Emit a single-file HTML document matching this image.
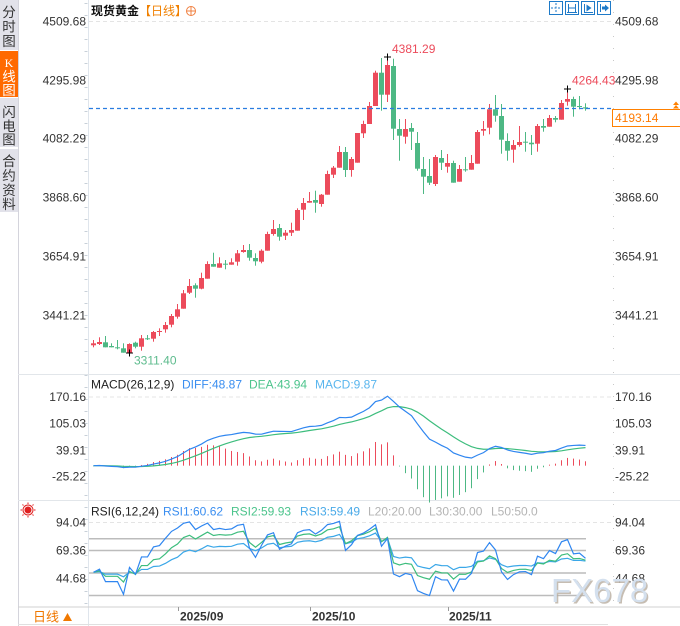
<!DOCTYPE html>
<html><head><meta charset="utf-8">
<style>
html,body{margin:0;padding:0;background:#fff;}
body{width:680px;height:626px;overflow:hidden;position:relative;font-family:"Liberation Sans","Noto Sans CJK SC",sans-serif;}
svg{position:absolute;left:0;top:0;}
</style></head><body>
<svg id="c" width="680" height="626" xmlns="http://www.w3.org/2000/svg" font-family="Liberation Sans, Noto Sans CJK SC, sans-serif">
<rect x="0" y="0" width="680" height="626" fill="#fff"/>
<!-- sidebar -->
<rect x="0" y="0" width="18" height="50" fill="#e2e2ea"/>
<rect x="0" y="51" width="18" height="46" fill="#ff6a00"/>
<rect x="0" y="98" width="18" height="49" fill="#e2e2ea"/>
<rect x="0" y="149" width="18" height="63" fill="#e2e2ea"/>
<g font-size="13.5" fill="#333" text-anchor="middle" font-family="Noto Sans CJK SC, sans-serif">
<text x="9" y="17">分</text><text x="9" y="31.5">时</text><text x="9" y="46">图</text>
<text x="9" y="117">闪</text><text x="9" y="131">电</text><text x="9" y="144.5">图</text>
<text x="9" y="166">合</text><text x="9" y="180.5">约</text><text x="9" y="195">资</text><text x="9" y="209">料</text>
</g>
<g font-size="13.5" fill="#fff" text-anchor="middle">
<text x="9" y="67" font-family="Liberation Serif, serif" font-size="12">K</text>
<text x="9" y="81.5" font-family="Noto Sans CJK SC, sans-serif">线</text>
<text x="9" y="95" font-family="Noto Sans CJK SC, sans-serif">图</text>
</g>
<line x1="18.5" y1="0" x2="18.5" y2="626" stroke="#d4d4dc"/>
<line x1="88.5" y1="0" x2="88.5" y2="626" stroke="#dfe5ec"/>
<line x1="18" y1="374.5" x2="680" y2="374.5" stroke="#e2e6ea"/>
<line x1="18" y1="500.5" x2="680" y2="500.5" stroke="#e2e6ea"/>
<line x1="18" y1="607" x2="680" y2="607" stroke="#d0d0d0"/>
<line x1="18" y1="624.5" x2="608" y2="624.5" stroke="#e0e0e0"/>
<!-- right axis dotted -->
<line x1="613.5" y1="0" x2="613.5" y2="607" stroke="#c8c8c8" stroke-dasharray="1,11"/>
<line x1="86" y1="3" x2="86" y2="607" stroke="#c8d0d8" stroke-dasharray="1,11" stroke-width="3"/>
<!-- top dashed lines -->
<line x1="89" y1="21.5" x2="613" y2="21.5" stroke="#e4e4e4" stroke-dasharray="4,3"/>
<line x1="89" y1="397" x2="613" y2="397" stroke="#e4e4e4" stroke-dasharray="4,3"/>
<line x1="89" y1="522.5" x2="613" y2="522.5" stroke="#e4e4e4" stroke-dasharray="4,3"/>
<!-- RSI level lines -->
<g stroke="#bcbcbc" stroke-width="1.5">
<line x1="89" y1="538.7" x2="586" y2="538.7"/>
<line x1="89" y1="550.5" x2="586" y2="550.5"/>
<line x1="89" y1="573" x2="586" y2="573"/>
<line x1="89" y1="595.5" x2="586" y2="595.5"/>
</g>
<!-- title -->
<text x="91" y="15" font-size="12" fill="#111" font-weight="bold" font-family="Liberation Sans, Noto Sans CJK SC, sans-serif">现货黄金<tspan fill="#f08000" font-weight="normal">【日线】</tspan></text>
<circle cx="191" cy="11" r="4.5" fill="none" stroke="#f08040" stroke-width="1"/>
<line x1="186.5" y1="11" x2="195.5" y2="11" stroke="#f08040"/>
<line x1="191" y1="6.5" x2="191" y2="15.5" stroke="#f08040"/>
<!-- top right icons -->
<g fill="none" stroke="#1e7ac8" stroke-width="1">
<rect x="549.5" y="1.5" width="13" height="13"/>
<rect x="565.5" y="1.5" width="13" height="13"/>
<rect x="581.5" y="1.5" width="13" height="13"/>
<rect x="597.5" y="1.5" width="13" height="13"/>
<line x1="556" y1="3" x2="556" y2="13" stroke-dasharray="2,1.5"/>
<line x1="551" y1="8" x2="561" y2="8" stroke-dasharray="2,1.5"/>
<line x1="568.5" y1="4" x2="568.5" y2="12"/><line x1="575.5" y1="4" x2="575.5" y2="12"/>
<line x1="568.5" y1="8" x2="575.5" y2="8"/><line x1="567" y1="12.5" x2="577" y2="12.5"/>
<line x1="584.5" y1="4" x2="584.5" y2="12.5"/><line x1="584" y1="12.5" x2="593" y2="12.5"/>
<line x1="600.5" y1="4" x2="600.5" y2="12"/>
</g>
<path d="M586.5,4.5 L591.5,8 L586.5,11.5Z" fill="#1e7ac8"/>
<path d="M602,6.5 L605,6.5 L605,4.5 L609,8 L605,11.5 L605,9.5 L602,9.5Z" fill="#1e7ac8"/>
<!-- axis labels -->
<g font-size="12" fill="#333">
<g text-anchor="end">
<text x="86" y="25.3">4509.68</text>
<text x="86" y="84.3">4295.98</text>
<text x="86" y="142.5">4082.29</text>
<text x="86" y="201.5">3868.60</text>
<text x="86" y="260.5">3654.91</text>
<text x="86" y="319.3">3441.21</text>
<text x="86" y="401">170.16</text>
<text x="86" y="427.5">105.03</text>
<text x="86" y="454.3">39.91</text>
<text x="86" y="480.5">-25.22</text>
<text x="86" y="526.6">94.04</text>
<text x="86" y="554.6">69.36</text>
<text x="86" y="582.6">44.68</text>
</g>
<text x="615" y="25.3">4509.68</text>
<text x="615" y="84.3">4295.98</text>
<text x="615" y="142.5">4082.29</text>
<text x="615" y="201.5">3868.60</text>
<text x="615" y="260.5">3654.91</text>
<text x="615" y="319.3">3441.21</text>
<text x="615" y="401">170.16</text>
<text x="615" y="427.5">105.03</text>
<text x="615" y="454.3">39.91</text>
<text x="615" y="480.5">-25.22</text>
<text x="615" y="526.6">94.04</text>
<text x="615" y="554.6">69.36</text>
<text x="615" y="582.6">44.68</text>
</g>
<!-- legends -->
<g font-size="12">
<text x="91" y="388.5" fill="#222">MACD(26,12,9)</text>
<text x="182" y="388.5" fill="#3a8ef0">DIFF:48.87</text>
<text x="249" y="388.5" fill="#4cc48c">DEA:43.94</text>
<text x="315" y="388.5" fill="#5ab6ee">MACD:9.87</text>
<text x="91" y="515.5" fill="#222">RSI(6,12,24)</text>
<text x="163" y="515.5" fill="#3a8ef0">RSI1:60.62</text>
<text x="231" y="515.5" fill="#4cc48c">RSI2:59.93</text>
<text x="300" y="515.5" fill="#4aaae8">RSI3:59.49</text>
<text x="368" y="515.5" fill="#b4b4b4">L20:20.00</text>
<text x="429" y="515.5" fill="#b4b4b4">L30:30.00</text>
<text x="491" y="515.5" fill="#b4b4b4">L50:50.0</text>
</g>
<!-- sun icon -->
<g stroke="#e02020" stroke-width="1">
<circle cx="28" cy="510" r="3" fill="#e02020"/>
<circle cx="28" cy="510" r="5" fill="none"/>
<line x1="28" y1="502.5" x2="28" y2="504"/><line x1="28" y1="516" x2="28" y2="517.5"/>
<line x1="20.5" y1="510" x2="22" y2="510"/><line x1="34" y1="510" x2="35.5" y2="510"/>
<line x1="22.5" y1="504.5" x2="23.5" y2="505.5"/><line x1="32.5" y1="514.5" x2="33.5" y2="515.5"/>
<line x1="33.5" y1="504.5" x2="32.5" y2="505.5"/><line x1="22.5" y1="515.5" x2="23.5" y2="514.5"/>
</g>
<!-- bottom left box -->
<text x="33" y="621.5" font-size="13" fill="#f07800" font-family="Noto Sans CJK SC, sans-serif">日线</text>
<path d="M63,621 L67.5,613 L72,621Z" fill="#f07800"/>
<!-- dates -->
<g stroke="#999"><line x1="178.5" y1="607" x2="178.5" y2="611"/><line x1="310.5" y1="607" x2="310.5" y2="611"/><line x1="448.5" y1="607" x2="448.5" y2="611"/></g>
<g font-size="12" font-weight="bold" fill="#333">
<text x="180" y="620.5">2025/09</text>
<text x="312" y="620.5">2025/10</text>
<text x="449" y="620.5">2025/11</text>
</g>
<g id="dyn"></g>
<!-- current price -->
<line x1="89" y1="108.5" x2="613" y2="108.5" stroke="#2a7de0" stroke-width="1.2" stroke-dasharray="4,3"/>
<rect x="612.5" y="109.5" width="68" height="17" fill="#fff" stroke="#ff8000"/>
<text x="615" y="122" font-size="12" fill="#ff7a00">4193.14</text>
<path d="M673,105 L676,101.5 L679,105Z M673,108.5 L676,105 L679,108.5Z" fill="#ff8000"/>
<!-- extreme labels -->
<g font-size="12">
<text x="392" y="53" fill="#ec4b5b">4381.29</text>
<text x="572" y="84.5" fill="#ec4b5b">4264.43</text>
<text x="134" y="364.5" fill="#5dbb8d">3311.40</text>
</g>
<g stroke="#000" stroke-width="1">
<line x1="384" y1="57" x2="391" y2="57"/><line x1="387.5" y1="53.5" x2="387.5" y2="60.5"/>
<line x1="564" y1="89" x2="571" y2="89"/><line x1="567.5" y1="85.5" x2="567.5" y2="92.5"/>
<line x1="126" y1="353" x2="133" y2="353"/><line x1="129.5" y1="349.5" x2="129.5" y2="356.5"/>
</g>
<!-- watermark -->
<text x="552.5" y="603.5" font-size="33" fill="#b8ada0" opacity="0.8">FX678</text>
<text x="551" y="602" font-size="33" fill="#d4e0ee">FX678</text>
</svg>
<script>
(function(){
const C=[
[343.3,345.3,340,347.3,'r'],[342,344,337.3,345,'r'],[342.3,347.3,336,347.3,'g'],[346,347.3,343.3,347.3,'g'],
[347.3,347.3,340,349.3,'g'],[348.3,352.7,343.3,352.7,'g'],[344,352.7,343.3,354,'r'],[342.7,346.7,341.7,348.3,'g'],
[338.3,346.7,335,350.7,'r'],[338.3,338.3,335,340,'g'],[332,338.7,331,341.7,'r'],[331,331,328.3,336,'r'],
[325,329.3,322,332.7,'r'],[316,324.7,314,327.3,'r'],[309.3,316.7,304,318.7,'r'],[293.3,308.7,290,308.7,'r'],
[286,292.7,279,294,'r'],[285.3,288.7,283.3,297.7,'g'],[278,288.7,272.7,289.3,'r'],[264,278.7,261.3,278.7,'r'],
[264,266.7,252.7,266.7,'g'],[263.3,267.7,257.3,267.7,'r'],[263.7,263.7,260,269.3,'g'],[262.3,264.7,258.3,264.7,'r'],
[253.3,261.7,250,265.7,'r'],[250,252,245,252.7,'r'],[250,257.7,244,260.7,'g'],[258,261.3,253.3,265.7,'g'],
[250.7,261.7,249.3,263.3,'r'],[234,250.7,231.7,250.7,'r'],[229,234,220,235.7,'r'],[228,236.7,224,240.7,'g'],
[232.7,235.7,230,240,'r'],[230,232.7,222.7,236,'r'],[210,230.7,208.3,230.7,'r'],[203,209.7,198,220,'r'],
[201,202.7,192,202.7,'r'],[200,202.7,190.7,212.7,'g'],[194.7,204,194,206.7,'r'],[174,194.7,170.7,194.7,'r'],
[167.7,174.7,166,178,'r'],[152,167.7,146,167.7,'r'],[152,170,147,177,'g'],[159,170,157,176.7,'r'],
[133,162.7,133,162.7,'r'],[124,133.3,120.7,138,'r'],[106,124,102,124,'r'],[72.7,106,70.7,106,'r'],
[72.7,94.7,58,110.7,'g'],[65,94.7,56.5,102,'r'],[66,128.7,58.7,140,'g'],[129,135.7,119,160.7,'g'],
[129,136.7,119,143.7,'r'],[128,131.7,123,150,'g'],[143,168.7,132,170.7,'g'],[169,176.7,157,194,'g'],
[176,182.7,159,185,'g'],[157,184,155,186,'r'],[158,162.7,150,170,'g'],[163,166.7,154,172.7,'r'],
[163,182.7,160.7,182.7,'g'],[169,181.7,165,181.7,'r'],[169.3,169.3,157,171.7,'g'],[163,169.7,155,169.7,'r'],
[132,163.7,130,163.7,'r'],[129,130.7,121,135.7,'r'],[109.3,127.7,104,134.3,'r'],[109.3,115.7,95,121.7,'g'],
[116,139.7,104,153.7,'g'],[141,150.7,133.3,160.7,'g'],[145,149.7,140,162.7,'r'],[142,145,126,146.7,'r'],
[141.7,141.7,132,151.7,'g'],[142.7,144.3,135,155,'g'],[126,143.7,124,151.7,'r'],[126,127.7,119,131.7,'g'],
[118,126.7,115,126.7,'r'],[118,119.7,116,122.3,'g'],[103,119.7,100,119.7,'r'],[99,101.7,88.5,105.7,'r'],
[99,106.7,96.7,116.7,'g'],[106,106,96,109.3,'g'],[107.3,108.5,103.3,110.7,'g']
];
const ns='http://www.w3.org/2000/svg';
const g=document.getElementById('dyn');
function el(t,a){const e=document.createElementNS(ns,t);for(const k in a)e.setAttribute(k,a[k]);g.appendChild(e);return e;}
const R='#ec4b5b',G='#4db884';
const yToP=y=>4509.68-(y-21)/0.27516;
const cl=C.map(c=>yToP(c[4]==='r'?c[0]:c[1]));
// MACD
let e12=cl[0],e26=cl[0],dea=0;const D=[],E=[],H=[];
cl.forEach(c=>{e12=(2*c+11*e12)/13;e26=(2*c+25*e26)/27;const d=e12-e26;dea=(2*d+8*dea)/10;D.push(d);E.push(dea);H.push(2*(d-dea));});
const my=v=>396.7+(170.16-v)*0.4053;
H.forEach((h,i)=>{const x=93+6*i;const y0=my(0),y1=my(h);el('rect',{x:x,y:Math.min(y0,y1),width:1,height:Math.max(0.6,Math.abs(y1-y0)),fill:h>=0?R:G});});
function poly(arr,f,col){el('polyline',{points:arr.map((v,i)=>(93.5+6*i)+','+f(v).toFixed(2)).join(' '),fill:'none',stroke:col,'stroke-width':1.2});}
poly(E,my,'#3dbd7d');poly(D,my,'#2f86f0');
// RSI
function rsi(N){let up=10,ab=20;const out=[];for(let i=0;i<cl.length;i++){const d=i?cl[i]-cl[i-1]:0;up=(Math.max(d,0)+(N-1)*up)/N;ab=(Math.abs(d)+(N-1)*ab)/N;out.push(100*up/ab);}return out;}
const ry=v=>522.3+(94.04-v)*1.1345;
poly(rsi(24),ry,'#3aa7e8');poly(rsi(12),ry,'#3dbd7d');poly(rsi(6),ry,'#2f86f0');
// candles
C.forEach((c,i)=>{const col=c[4]==='r'?R:G;const x=93+6*i;
el('rect',{x:x,y:c[2],width:1,height:Math.max(1,c[3]-c[2]),fill:col});
el('rect',{x:x-2,y:c[0],width:5,height:Math.max(1,c[1]-c[0]),fill:col});});
})();
</script>
</body></html>
